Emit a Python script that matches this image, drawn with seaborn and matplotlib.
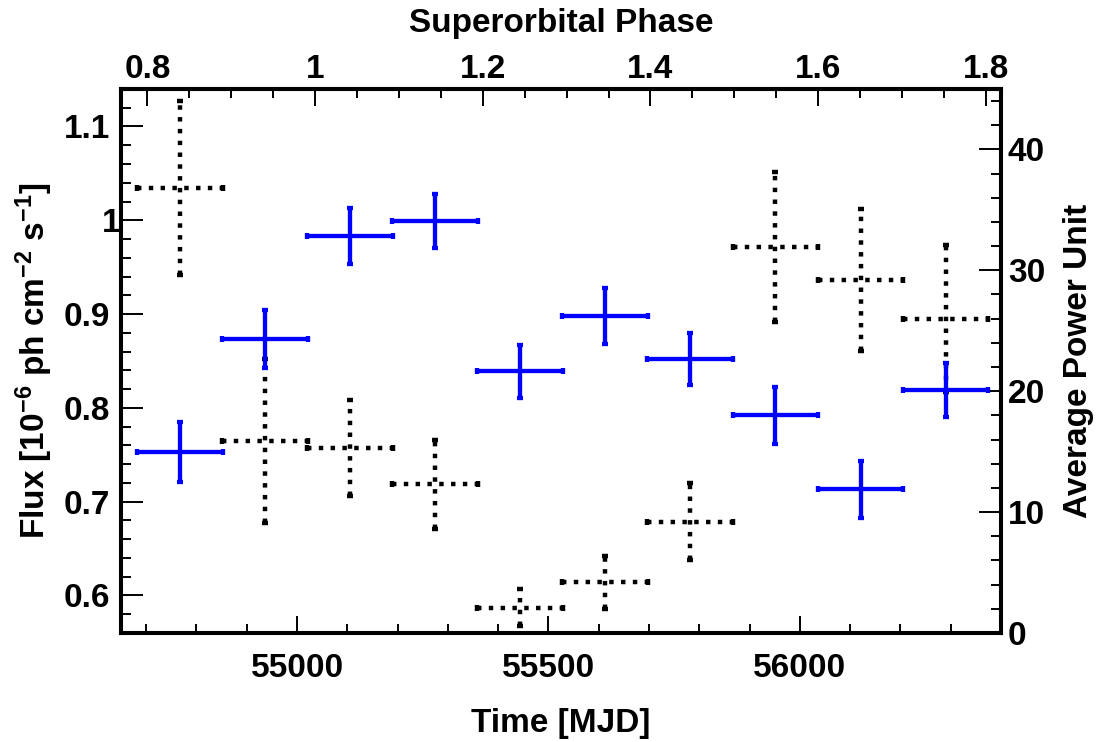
import numpy as np
import pandas as pd
import matplotlib
matplotlib.use("Agg")
import matplotlib.pyplot as plt
import matplotlib.transforms as mtransforms
import seaborn as sns
from matplotlib.ticker import MultipleLocator, FormatStrFormatter, FixedLocator

# ---------------- data ----------------
mjd_center = [54767, 54936, 55105, 55274, 55443, 55612, 55781, 55951, 56121, 56290]
mjd_halfwidth = [85, 85, 85, 85, 85, 85, 85, 85, 85, 85]
flux = [0.753, 0.873, 0.983, 0.999, 0.839, 0.898, 0.852, 0.792, 0.713, 0.819]
flux_err = [0.032, 0.031, 0.030, 0.029, 0.028, 0.030, 0.028, 0.030, 0.030, 0.029]
power = [36.8, 15.9, 15.3, 12.3, 2.1, 4.2, 9.2, 31.9, 29.2, 26.0]
power_err = [7.2, 6.8, 4.0, 3.7, 1.55, 2.2, 3.2, 6.2, 5.9, 6.1]
phase_ticks = [0.8, 1.0, 1.2, 1.4, 1.6, 1.8]

PERIOD = 1667.0        # superorbital period [d]
PHASE1_MJD = 55036.0   # MJD at superorbital phase 1

df = pd.DataFrame({"mjd": mjd_center, "dmjd": mjd_halfwidth,
                   "flux": flux, "dflux": flux_err,
                   "power": power, "dpower": power_err})

sns.set_theme(style="ticks")
plt.rcParams["font.family"] = ["Liberation Sans", "DejaVu Sans"]
plt.rcParams["font.weight"] = "bold"
plt.rcParams["axes.labelweight"] = "bold"
plt.rcParams["text.color"] = "black"
plt.rcParams["axes.labelcolor"] = "black"
plt.rcParams["xtick.color"] = "black"
plt.rcParams["ytick.color"] = "black"
plt.rcParams["axes.edgecolor"] = "black"
plt.rcParams["lines.scale_dashes"] = False
plt.rcParams["mathtext.fontset"] = "custom"
plt.rcParams["mathtext.rm"] = "Liberation Sans:bold"
plt.rcParams["mathtext.it"] = "Liberation Sans:bold"
plt.rcParams["mathtext.bf"] = "Liberation Sans:bold"
plt.rcParams["mathtext.default"] = "rm"

FS = 24
LW = 3.1
fig = plt.figure(figsize=(10.98, 7.42), dpi=100)
ax = fig.add_axes([0.1102, 0.1469, 0.8015, 0.7332])
ax2 = ax.twinx()
ax.set_zorder(ax2.get_zorder() + 1)
ax.patch.set_visible(False)

# power (black dotted crosses) on right axis
eb2 = ax2.errorbar(df["mjd"], df["power"], xerr=df["dmjd"], yerr=df["dpower"],
                   fmt="none", ecolor="black", elinewidth=3.2,
                   capsize=2.2, capthick=3.2)
for lc in eb2[2]:
    lc.set_linestyle((0, (3.2, 5.3)))
    lc.set_capstyle("butt")

# flux (blue crosses) on left axis
ax.errorbar(df["mjd"], df["flux"], xerr=df["dmjd"], yerr=df["dflux"],
            fmt="none", ecolor="#0000ff", elinewidth=LW,
            capsize=2.2, capthick=LW)

ax.set_xlim(54650, 56400)
ax.set_ylim(0.56, 1.14)
ax2.set_ylim(0, 45)

ax.xaxis.set_major_locator(MultipleLocator(500))
ax.xaxis.set_minor_locator(MultipleLocator(100))
ax.yaxis.set_major_locator(MultipleLocator(0.1))
ax.yaxis.set_minor_locator(MultipleLocator(0.02))
ax.yaxis.set_major_formatter(FormatStrFormatter("%g"))
ax2.yaxis.set_major_locator(MultipleLocator(10))
ax2.yaxis.set_minor_locator(MultipleLocator(2))
ax2.yaxis.set_major_formatter(FormatStrFormatter("%g"))
ax.xaxis.set_major_formatter(FormatStrFormatter("%g"))

ax.tick_params(axis="x", which="both", direction="in", top=False, bottom=True,
               labelsize=FS, pad=14.5, width=1.4, colors="black")
ax.tick_params(axis="x", which="major", length=12.5)
ax.tick_params(axis="x", which="minor", length=6.5)
ax.tick_params(axis="y", which="both", direction="in", left=True, right=False,
               labelsize=FS, pad=8, width=1.4, colors="black")
ax.tick_params(axis="y", which="major", length=16)
ax.tick_params(axis="y", which="minor", length=7.5)
ax2.tick_params(axis="y", which="both", direction="in", right=True, left=False,
                labelsize=FS, pad=5, width=1.4, colors="black")
ax2.tick_params(axis="y", which="major", length=16)
ax2.tick_params(axis="y", which="minor", length=7.5)

# top axis: superorbital phase
def mjd_to_phase(m):
    return 1.0 + (np.asarray(m) - PHASE1_MJD) / PERIOD

def phase_to_mjd(p):
    return PHASE1_MJD + (np.asarray(p) - 1.0) * PERIOD

sec = ax.secondary_xaxis("top", functions=(mjd_to_phase, phase_to_mjd))
sec.xaxis.set_major_locator(FixedLocator(phase_ticks))
sec.xaxis.set_minor_locator(MultipleLocator(0.05))
sec.xaxis.set_major_formatter(FormatStrFormatter("%g"))
sec.tick_params(axis="x", which="both", direction="in", labelsize=FS, pad=3,
                width=1.4, colors="black")
sec.tick_params(axis="x", which="major", length=12.5)
sec.tick_params(axis="x", which="minor", length=6.5)
sec.set_xlabel("Superorbital Phase", fontsize=FS, fontweight="bold", labelpad=16,
               color="black")

for a in (ax, ax2):
    for s in a.spines.values():
        s.set_linewidth(2.9)
        s.set_color("black")
for s in sec.spines.values():
    s.set_linewidth(2.9)
    s.set_color("black")

ax.set_xlabel("Time [MJD]", fontsize=FS, fontweight="bold", labelpad=17)
ax.set_ylabel(r"Flux [10$^{-6}$ ph cm$^{-2}$ s$^{-1}$]", fontsize=FS,
              fontweight="bold", labelpad=6)
ax2.set_ylabel("Average Power Unit", fontsize=FS, fontweight="bold", labelpad=13)

for lab in ax.get_xticklabels() + ax.get_yticklabels() + ax2.get_yticklabels() + sec.get_xticklabels():
    lab.set_fontweight("bold")

fig.canvas.draw()
# the reference places the single-digit "1" label closer to the axis
shift = mtransforms.ScaledTranslation(10 / 100, 0, fig.dpi_scale_trans)
for t in ax.yaxis.get_major_ticks():
    if abs(t.get_loc() - 1.0) < 1e-9:
        t.label1.set_transform(t.label1.get_transform() + shift)

fig.savefig("out.png", dpi=100)
